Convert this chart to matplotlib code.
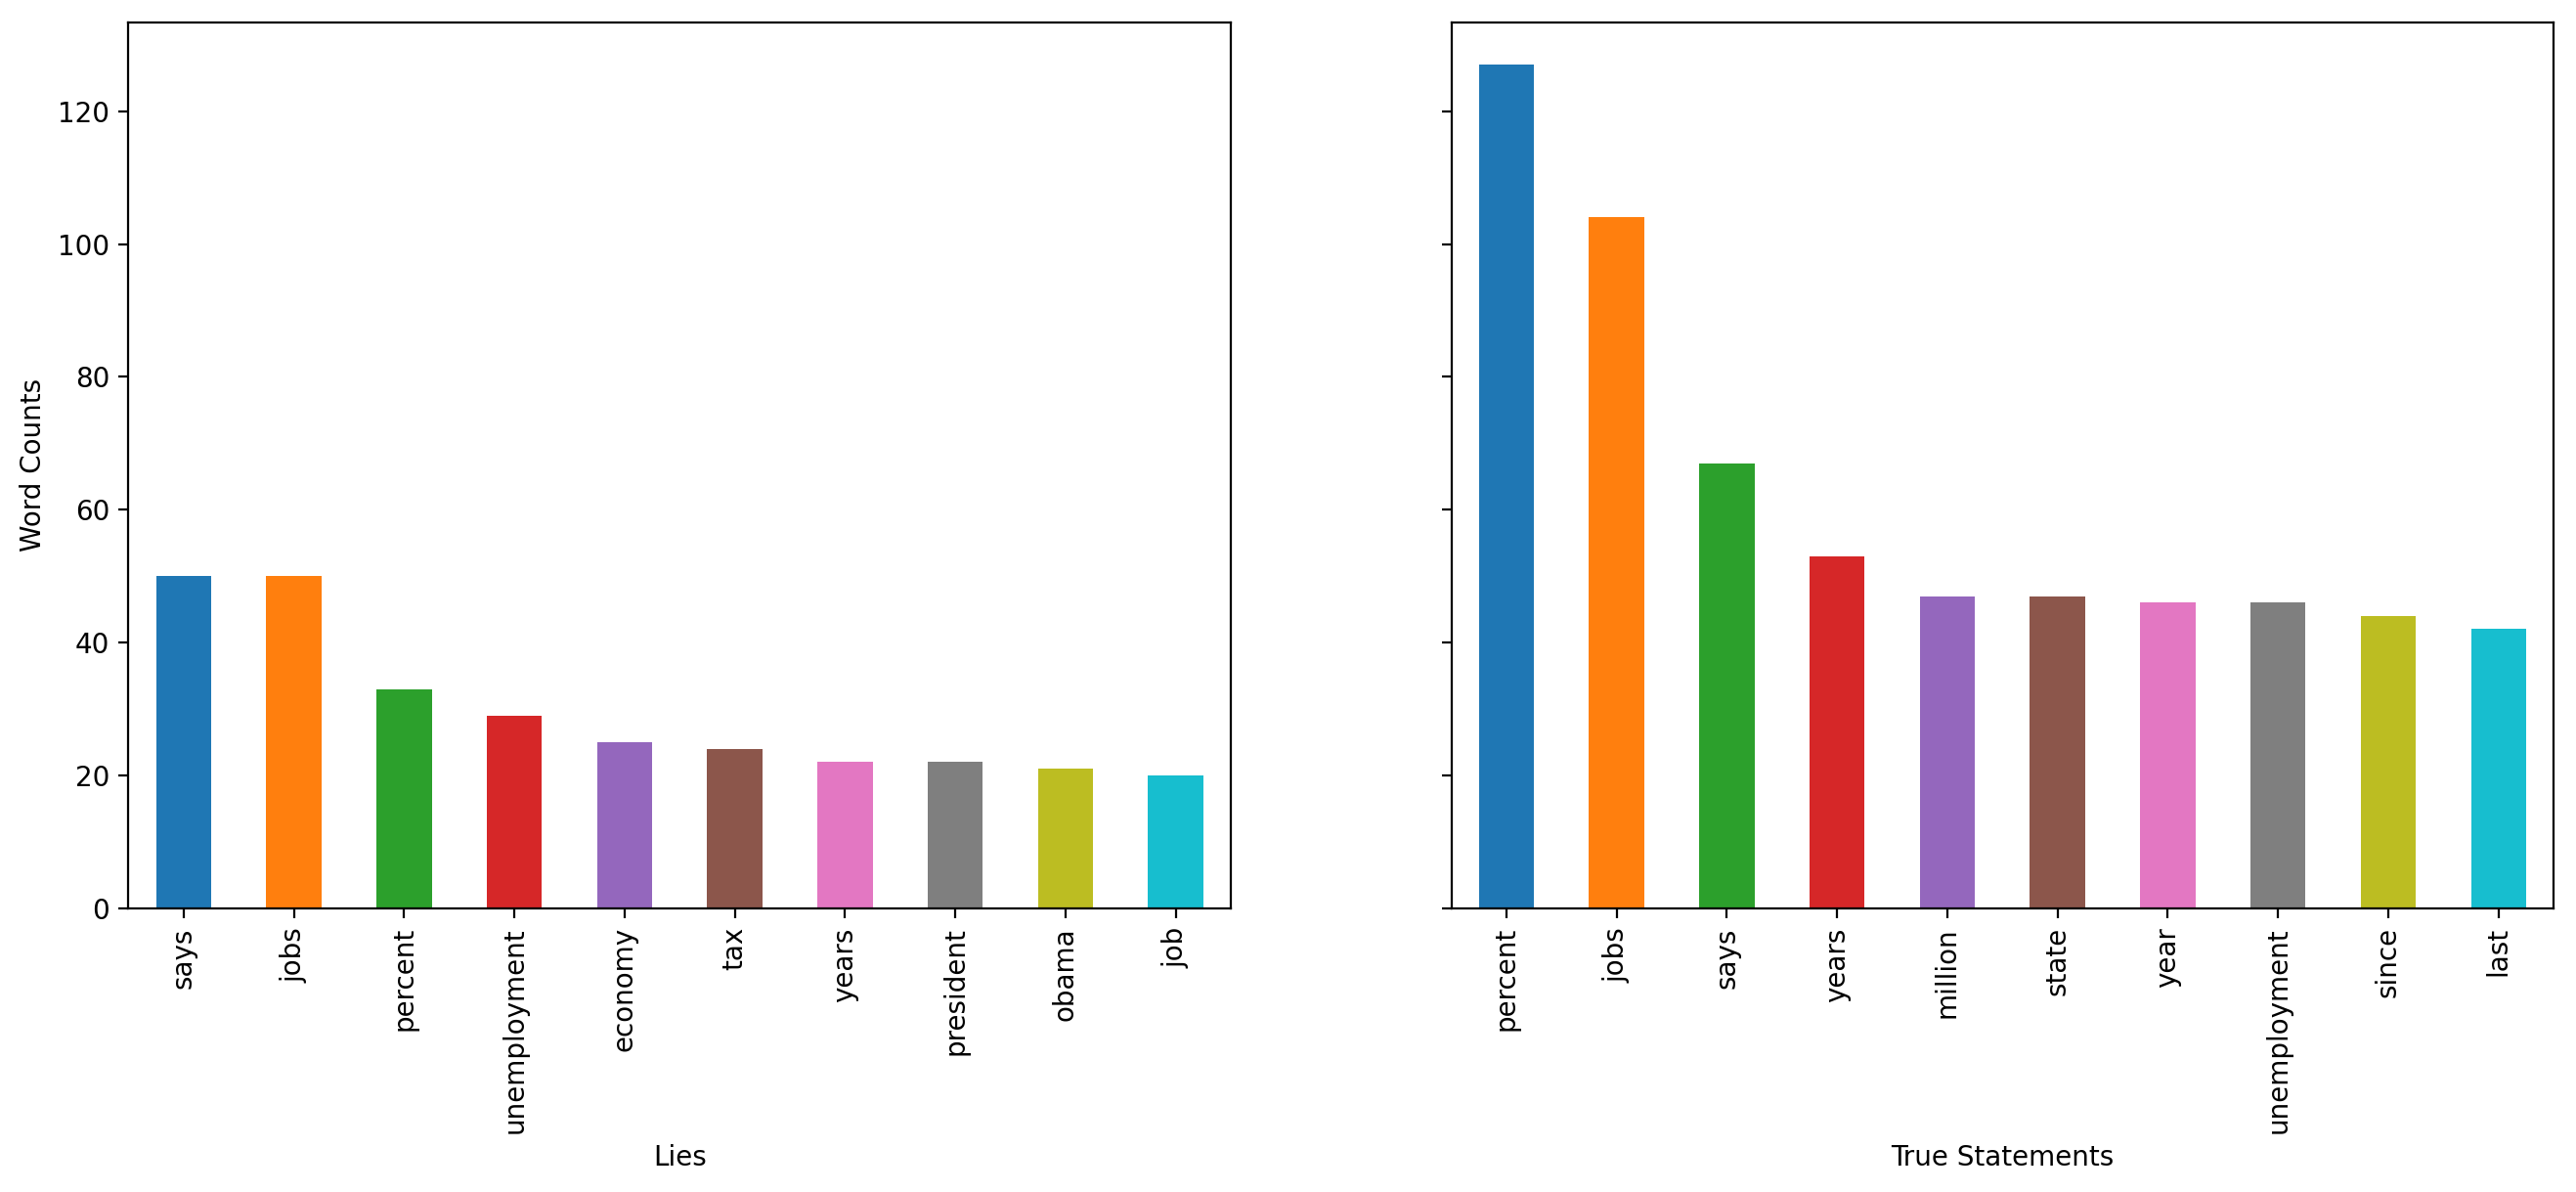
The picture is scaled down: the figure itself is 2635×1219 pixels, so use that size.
import matplotlib
matplotlib.use("Agg")
import matplotlib.pyplot as plt

lies_words = ["says", "jobs", "percent", "unemployment", "economy", "tax",
              "years", "president", "obama", "job"]
lies_counts = [50, 50, 33, 29, 25, 24, 22, 22, 21, 20]

true_words = ["percent", "jobs", "says", "years", "million", "state",
              "year", "unemployment", "since", "last"]
true_counts = [127, 104, 67, 53, 47, 47, 46, 46, 44, 42]

colors = plt.rcParams['axes.prop_cycle'].by_key()['color']

fig, (ax1, ax2) = plt.subplots(1, 2, sharey=True, figsize=(13.175, 6.095), dpi=200)
fig.subplots_adjust(left=0.0499, right=0.9913, bottom=0.2381, top=0.9811, wspace=0.2)

for ax, words, counts, label in [(ax1, lies_words, lies_counts, "Lies"),
                                 (ax2, true_words, true_counts, "True Statements")]:
    x = range(len(words))
    ax.bar(x, counts, width=0.5, color=colors[:len(words)])
    ax.set_xticks(list(x))
    ax.set_xticklabels(words, rotation=90)
    ax.set_xlim(-0.5, len(words) - 0.5)
    ax.set_xlabel(label)

ax1.set_ylabel("Word Counts")

fig.savefig("out.png", dpi=200)
